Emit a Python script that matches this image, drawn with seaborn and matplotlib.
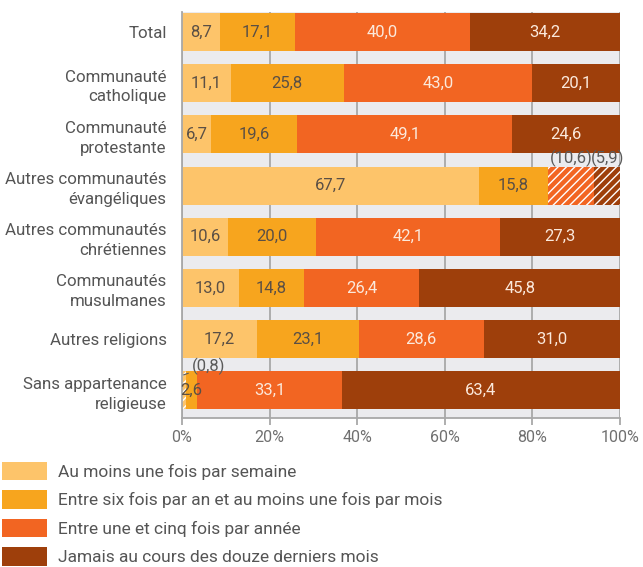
import matplotlib
matplotlib.use("Agg")
import matplotlib.pyplot as plt
import seaborn as sns
import numpy as np
import pandas as pd
from matplotlib.patches import Patch

categories = ["Total", "Communauté\ncatholique", "Communauté\nprotestante",
              "Autres communautés\névangéliques", "Autres communautés\nchrétiennes",
              "Communautés\nmusulmanes", "Autres religions", "Sans appartenance\nreligieuse"]
weekly = [8.7, 11.1, 6.7, 67.7, 10.6, 13.0, 17.2, 0.8]
monthly = [17.1, 25.8, 19.6, 15.8, 20.0, 14.8, 23.1, 2.6]
yearly = [40.0, 43.0, 49.1, 10.6, 42.1, 26.4, 28.6, 33.1]
never = [34.2, 20.1, 24.6, 5.9, 27.3, 45.8, 31.0, 63.4]
series_names = ["Au moins une fois par semaine",
                "Entre six fois par an et au moins une fois par mois",
                "Entre une et cinq fois par année",
                "Jamais au cours des douze derniers mois"]
colors = ["#FDC46A", "#F7A51E", "#F26522", "#9E3F0B"]
text_colors = ["#5a4f45", "#5a4f45", "#fbe9dc", "#fbe9dc"]
xticks = [0, 20, 40, 60, 80, 100]
xticklabels = ["0%", "20%", "40%", "60%", "80%", "100%"]
# segments shown hatched (row index, series index)
hatched = [(3, 2), (3, 3), (7, 0)]

sns.set_theme(style="white")
plt.rcParams["font.family"] = ["Roboto", "DejaVu Sans"]

series = [weekly, monthly, yearly, never]
df = pd.DataFrame({"cat": categories})
cum = np.cumsum(np.array(series), axis=0)

fig = plt.figure(figsize=(6.43, 5.67), dpi=100)
ax = fig.add_axes([182/643, 1-418/567, 438/643, 406/567])
ax.set_facecolor("#EBEBEE")

# draw from widest cumulative to narrowest
for k in range(3, -1, -1):
    df["v"] = cum[k]
    n0 = len(ax.patches)
    sns.barplot(data=df, y="cat", x="v", order=categories, orient="h",
                color=colors[k], saturation=1, width=0.74, errorbar=None,
                linewidth=0, ax=ax)
    new = ax.patches[n0:]
    for (r, s) in hatched:
        if s == k:
            p = new[r]
            p.set_hatch("////")
            p.set_edgecolor("white")
            p.set_linewidth(0)

# value labels
for i in range(len(categories)):
    for k in range(4):
        if (i, k) in hatched:
            continue
        val = series[k][i]
        center = cum[k][i] - val / 2
        ax.text(center, i, f"{val:.1f}".replace(".", ","), ha="center", va="center",
                fontsize=12, color=text_colors[k])

# parenthesised small values
r = 3
ax.text(cum[2][r] - yearly[r] / 2, r - 0.37, f"({yearly[r]:.1f})".replace(".", ","),
        ha="center", va="bottom", fontsize=12, color="#5a5a5a")
ax.text(cum[3][r] - never[r] / 2, r - 0.37, f"({never[r]:.1f})".replace(".", ","),
        ha="center", va="bottom", fontsize=12, color="#5a5a5a")
r = 7
ax.annotate(f"({weekly[r]:.1f})".replace(".", ","), xy=(0.3, r - 0.30),
            xytext=(2.2, r - 0.47), ha="left", va="center", fontsize=12,
            color="#5a5a5a",
            arrowprops=dict(arrowstyle="-", color="#5a5a5a", lw=0.8,
                            shrinkA=0, shrinkB=0))

ax.set_xlim(0, 100)
ax.set_ylim(7.54, -0.39)
ax.set_xticks(xticks)
ax.set_xticklabels(xticklabels)
ax.set_xlabel("")
ax.set_ylabel("")
ax.set_axisbelow(True)
ax.grid(axis="x", color="#A8A8A8", linewidth=1.3)
ax.grid(axis="y", visible=False)
for s in ["top", "right"]:
    ax.spines[s].set_visible(False)
for s in ["left", "bottom"]:
    ax.spines[s].set_color("#A8A8A8")
    ax.spines[s].set_linewidth(1.3)
ax.tick_params(axis="x", which="both", bottom=True, length=5, width=1.3,
               color="#A8A8A8", labelsize=11.5, labelcolor="#707070", pad=4)
ax.tick_params(axis="y", left=False, length=0, labelsize=12.2, labelcolor="#555555", pad=11)
for t in ax.get_yticklabels():
    t.set_linespacing(1.4)

handles = [Patch(facecolor=c, edgecolor="none") for c in colors]
fig.legend(handles, series_names, loc="upper left", bbox_to_anchor=(0.003, 1 - 462/567),
           frameon=False, fontsize=12.5, handlelength=2.6, handleheight=1.25,
           handletextpad=0.62, labelspacing=0.58, borderpad=0, borderaxespad=0,
           labelcolor="#555555")

fig.savefig("out.png", dpi=100)
